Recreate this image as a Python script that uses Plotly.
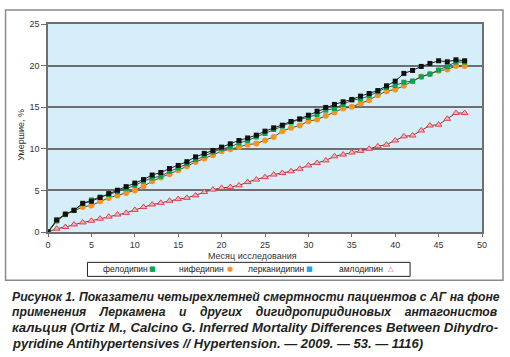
import plotly.graph_objects as go

months = list(range(49))
felodipine = [0, 1.4, 2.1, 2.6, 3.4, 3.85, 4.2, 4.5, 4.85, 5.2, 5.6, 6.1, 6.5, 6.7, 7.3, 7.7,
              8.2, 8.7, 9.2, 9.6, 10.0, 10.2, 10.7, 11.0, 11.43, 11.84, 12.32, 12.72, 13.2,
              13.52, 13.76, 14.12, 14.64, 14.85, 15.33, 15.85, 16.0, 16.37, 16.85, 17.37,
              17.61, 18.0, 18.13, 18.65, 18.98, 19.46, 19.86, 20.42, 20.42]
nifedipine = [0, 1.3, 2.1, 2.6, 3.0, 3.2, 3.7, 4.1, 4.4, 4.7, 5.0, 5.5, 6.1, 6.55, 6.94, 7.42,
              7.9, 8.42, 8.83, 9.23, 9.71, 9.95, 10.23, 10.5, 10.63, 11.0, 11.43, 12.12, 12.52,
              12.8, 13.32, 13.52, 13.96, 14.36, 14.85, 15.04, 15.45, 15.85, 16.45, 16.93,
              17.13, 17.57, 18.13, 18.7, 18.98, 19.38, 19.54, 19.94, 19.94]
lercanidipine = [0, 1.45, 2.15, 2.6, 3.45, 3.7, 4.15, 4.62, 5.02, 5.45, 5.88, 6.3, 6.85, 7.15,
                 7.63, 8.0, 8.45, 9.03, 9.45, 9.8, 10.2, 10.6, 11.0, 11.3, 11.64, 12.12, 12.52,
                 12.84, 13.28, 13.6, 14.04, 14.52, 14.97, 15.33, 15.65, 15.93, 16.33, 16.65,
                 17.0, 17.57, 18.13, 19.06, 19.42, 19.9, 20.26, 20.58, 20.46, 20.7, 20.58]
amlodipine = [0, 0.4, 0.6, 0.9, 1.15, 1.35, 1.6, 1.85, 2.1, 2.3, 2.65, 3.0, 3.3, 3.5, 3.75,
              3.95, 4.1, 4.4, 4.8, 5.1, 5.3, 5.4, 5.6, 6.0, 6.3, 6.6, 6.9, 7.1, 7.3, 7.6, 8.0,
              8.3, 8.6, 9.1, 9.3, 9.55, 9.75, 10.0, 10.3, 10.5, 11.0, 11.5, 11.6, 12.2, 12.8,
              12.9, 13.6, 14.3, 14.3]

x_ticks = [0, 5, 10, 15, 20, 25, 30, 35, 40, 45, 50]
y_ticks = [0, 5, 10, 15, 20, 25]

legend_names = ["фелодипин", "нифедипин", "лерканидипин", "амлодипин"]
legend_symbols = ["■", "●", "■", "△"]
legend_colors = ["#00A651", "#F7941D", "#1CA3EC", "#E8404A"]

caption_lines = [
    "Рисунок 1. Показатели четырехлетней смертности пациентов с АГ на фоне",
    "применения    Леркамена    и    других    дигидропиридиновых    антагонистов",
    "кальция (Ortiz M., Calcino G. Inferred Mortality Differences Between Dihydro-",
    "pyridine Antihypertensives // Hypertension. — 2009. — 53. — 1116)",
]
caption_sizes = [12.2, 12.2, 13.2, 13]

W, H = 510, 357
L, R, T, B = 47.5, 482.0, 24.0, 231.7


def px(x):
    return (x - L) / (R - L)


def py(y):
    return (B - y) / (B - T)


LINE = "#4a4a4a"
fig = go.Figure()
fig.add_trace(go.Scatter(x=months, y=amlodipine, mode="lines+markers", name="амлодипин",
                         line=dict(color=LINE, width=1),
                         marker=dict(symbol="triangle-up", size=6, color="#F6B3B8",
                                     line=dict(color="#E8404A", width=1))))
fig.add_trace(go.Scatter(x=months, y=nifedipine, mode="lines+markers", name="нифедипин",
                         line=dict(color=LINE, width=1),
                         marker=dict(symbol="circle", size=6, color="#F7941D")))
fig.add_trace(go.Scatter(x=months, y=felodipine, mode="lines+markers", name="фелодипин",
                         line=dict(color=LINE, width=1),
                         marker=dict(symbol="square", size=5, color="#00A651")))
fig.add_trace(go.Scatter(x=months, y=lercanidipine, mode="lines+markers", name="лерканидипин",
                         line=dict(color="#222", width=1),
                         marker=dict(symbol="square", size=5, color="#111")))

font_axis = dict(family="Liberation Sans, Arial, sans-serif", size=9, color="#333")

fig.update_layout(
    width=W, height=H, showlegend=False,
    margin=dict(l=L, r=W - R, t=T, b=H - B, pad=0),
    paper_bgcolor="white", plot_bgcolor="#D6EEFA",
    font=font_axis,
    xaxis=dict(range=[0, 50], tickvals=x_ticks, showgrid=False, zeroline=False,
               showline=True, linecolor="#6e6e6e", linewidth=1.5, mirror=True,
               ticks="outside", ticklen=3, tickcolor="#6e6e6e", tickfont=font_axis),
    yaxis=dict(range=[0, 25], tickvals=y_ticks, showgrid=True, gridcolor="#6e6e6e",
               gridwidth=1.5, zeroline=False, showline=True, linecolor="#6e6e6e",
               linewidth=1.5, mirror=True, ticks="outside", ticklen=5, tickcolor="#6e6e6e",
               tickfont=font_axis),
)

shapes = [
    dict(type="rect", xref="paper", yref="paper", x0=px(5), x1=px(503), y0=py(280), y1=py(10),
         line=dict(color="#8a8a8a", width=1.5), fillcolor="rgba(0,0,0,0)", layer="below"),
    dict(type="rect", xref="paper", yref="paper", x0=px(87), x1=px(410), y0=py(276), y1=py(262),
         line=dict(color="#222", width=1), fillcolor="white"),
]
fig.update_layout(shapes=shapes)

ann = []
ann.append(dict(text="Месяц исследования", x=px(252), y=py(255.5), xref="paper", yref="paper",
                showarrow=False, xanchor="center", yanchor="middle", font=font_axis))
ann.append(dict(text="Умершие, %", x=px(21), y=py(135), xref="paper", yref="paper",
                showarrow=False, textangle=-90, xanchor="center", yanchor="middle",
                font=font_axis))
text_x = [100.5, 177, 245.5, 336.5]
sym_x = [152, 229.5, 309.5, 391]
for name, sym, col, tx, sx in zip(legend_names, legend_symbols, legend_colors, text_x, sym_x):
    ann.append(dict(text=name, x=px(tx), y=py(269), xref="paper", yref="paper",
                    showarrow=False, xanchor="left", yanchor="middle",
                    font=dict(family="Liberation Sans, Arial, sans-serif", size=8.5,
                              color="#222")))
    ann.append(dict(text=sym, x=px(sx), y=py(269), xref="paper", yref="paper",
                    showarrow=False, xanchor="center", yanchor="middle",
                    font=dict(family="DejaVu Sans", size=7, color=col)))
cap_y = [296.7, 311.8, 327.2, 342.6]
for line, yy, fs in zip(caption_lines, cap_y, caption_sizes):
    ann.append(dict(text="<b><i>" + line + "</i></b>", x=px(9), y=py(yy), xref="paper",
                    yref="paper", showarrow=False, xanchor="left", yanchor="middle",
                    font=dict(family="Liberation Sans, Arial, sans-serif", size=fs,
                              color="#231F20")))
fig.update_layout(annotations=ann)

fig.write_html("out.html", config={"displayModeBar": False},
               post_script="document.body.style.margin='0';")
